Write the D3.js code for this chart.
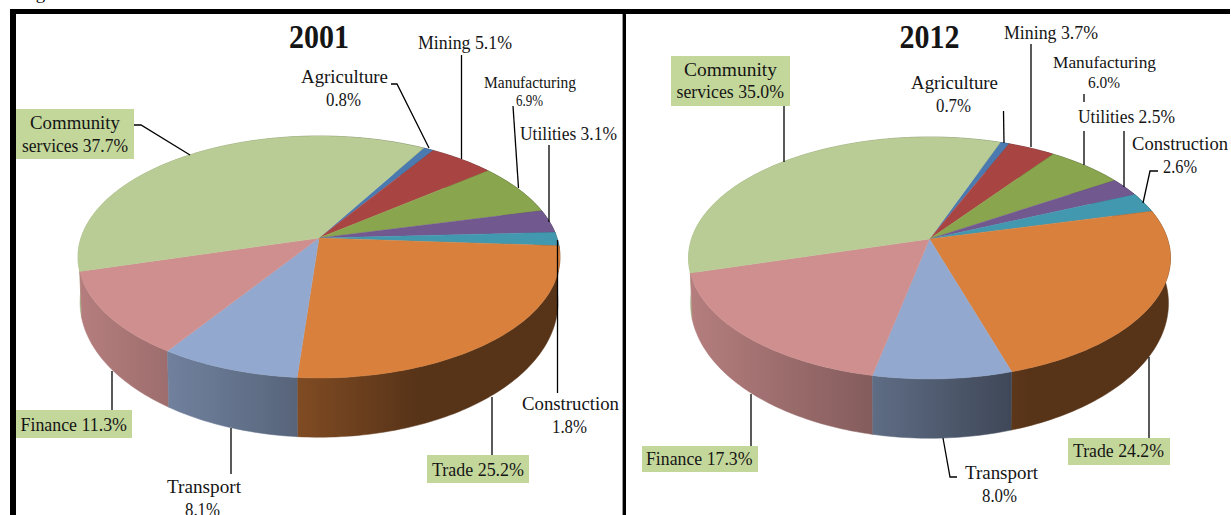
<!DOCTYPE html>
<html lang="en">
<head>
<meta charset="UTF-8">
<title>Employment shares by sector, 2001 and 2012</title>
<script src="https://d3js.org/d3.v7.min.js"></script>
<style>
    html, body { margin: 0; padding: 0; background: #fff; overflow: hidden; }
    text { font-family: "Liberation Serif", serif; fill: #151515; }
</style>
</head>
<body>
<div id="chart"></div>
<script>
// Data, clockwise from the first slice
const sectors = ["Agriculture", "Mining", "Manufacturing", "Utilities", "Construction", "Trade", "Transport", "Finance", "Community services"];
const values2001 = [0.8, 5.1, 6.9, 3.1, 1.8, 25.2, 8.1, 11.3, 37.7];
const values2012 = [0.7, 3.7, 6.0, 2.5, 2.6, 24.2, 8.0, 17.3, 35.0];
const sectorColors = ["#4a7ab0", "#a84543", "#89a54e", "#71588f", "#4198af", "#d9803c", "#93a8ce", "#cf8f8f", "#b9cc95"];
const titles = ["2001", "2012"];
const firstAngles = [30, 20];
const labels2001 = [["Agriculture", "0.8%"], ["Mining 5.1%"], ["Manufacturing", "6.9%"], ["Utilities 3.1%"], ["Construction", "1.8%"], ["Trade 25.2%"], ["Transport", "8.1%"], ["Finance 11.3%"], ["Community", "services 37.7%"]];
const labels2012 = [["Agriculture", "0.7%"], ["Mining 3.7%"], ["Manufacturing", "6.0%"], ["Utilities 2.5%"], ["Construction", "2.6%"], ["Trade 24.2%"], ["Transport", "8.0%"], ["Finance 17.3%"], ["Community", "services 35.0%"]];

// Label placement, same order as sectors: [x0, x1, baseline] per line, optional box, leader pieces
const layout2001 = [
    { lines: [[301, 388, 83], [326, 361, 106]], leaders: [[[391, 84], [397, 84], [429, 148]]] },
    { lines: [[418, 512, 49]], leaders: [[[461.5, 55], [461.5, 159]]] },
    { lines: [[484, 576, 88, 16], [516, 543, 106, 16]], leaders: [[[513, 106], [518.5, 188]]] },
    { lines: [[520, 617, 140]], leaders: [[[549, 145], [549, 222]]] },
    { lines: [[522, 619, 410], [552, 587, 433]], leaders: [[[557.5, 240], [557.5, 393]]] },
    { lines: [[432, 524, 476]], box: [427, 455, 102, 28], leaders: [[[492, 397], [492, 455]]] },
    { lines: [[167, 241, 493], [185, 220, 516]], leaders: [[[231, 428], [231, 474]]] },
    { lines: [[20.5, 127, 431]], box: [16, 410, 116, 28], leaders: [[[112, 371], [112, 410]]] },
    { lines: [[30, 120, 129], [22, 128, 152]], box: [16, 109, 118, 50], leaders: [[[134, 125], [141, 125], [190, 155]]] }
];
const layout2012 = [
    { lines: [[911, 998, 89], [936, 971, 112]], leaders: [[[1003.5, 111], [1004, 143]]] },
    { lines: [[1004, 1098, 39]], leaders: [[[1031, 44], [1031, 147]]] },
    { lines: [[1053, 1156, 68, 17], [1088, 1120, 88, 17]], leaders: [[[1084, 94], [1084, 102]], [[1084, 131], [1084, 165]]] },
    { lines: [[1078, 1175, 123]], leaders: [[[1124, 131], [1124, 187]]] },
    { lines: [[1132, 1228, 150], [1163, 1197, 173]], leaders: [[[1158, 171], [1150, 171], [1143, 203]]] },
    { lines: [[1073, 1164, 457]], box: [1068, 438, 102, 27], leaders: [[[1149, 357], [1149, 438]]] },
    { lines: [[965, 1038, 479], [982, 1017, 502]], leaders: [[[943, 438], [950, 477], [957, 477]]] },
    { lines: [[646, 752.5, 465]], box: [642, 446, 116, 26], leaders: [[[751, 394], [751, 446]]] },
    { lines: [[684, 777, 76], [676.5, 784, 98]], box: [671, 56, 119, 50], leaders: [[[784, 106], [784, 162]]] }
];

const width = 1231, height = 515;
const svg = d3.select("#chart").append("svg").attr("width", width).attr("height", height);
const defs = svg.append("defs");

// Page frame
svg.append("text").attr("x", 20).attr("y", -1).attr("font-size", 19).text("Figure");
svg.append("rect").attr("x", 10).attr("y", 9).attr("width", 1220).attr("height", 5).attr("fill", "#000");
svg.append("rect").attr("x", 10).attr("y", 9).attr("width", 6).attr("height", height).attr("fill", "#000");
svg.append("rect").attr("x", 622).attr("y", 14).attr("width", 1).attr("height", height).attr("fill", "#999");
svg.append("rect").attr("x", 623).attr("y", 9).attr("width", 3).attr("height", height).attr("fill", "#000");

// Pie seen in perspective: unit circle point -> screen
const persp = 0.157;
const topRim = { rx: 238, ry: 118, drop: 0 };
const lowRim = { rx: 236, ry: 131.7, drop: 43 };

function project(a, cx, cy, r) {
    const u = Math.sin(a), v = -Math.cos(a), w = 1 - persp * v;
    return [cx + r.rx * u / w, cy + r.drop + r.ry * v / w];
}

function rim(a0, a1, cx, cy, r) {
    const n = Math.max(2, Math.ceil((a1 - a0) / 0.02));
    return d3.range(n + 1).map(i => project(a0 + (a1 - a0) * i / n, cx, cy, r));
}

// Wall lighting falls from left to right
const shade = d3.scaleLinear().domain([-241, -150, -55, 100, 241]).range([0.88, 0.76, 0.64, 0.4, 0.4]);
const line = d3.line();

function drawPie(values, title, firstAngle, labels, layout, cx, cy, id) {
    const pie = d3.pie().sort(null)
        .startAngle(firstAngle * Math.PI / 180)
        .endAngle((firstAngle + 360) * Math.PI / 180);
    const slices = pie(values).map((d, i) => ({ ...d, color: sectorColors[i], gid: `wall${id}-${i}` }));

    slices.forEach(d => {
        const gr = defs.append("linearGradient").attr("id", d.gid)
            .attr("gradientUnits", "userSpaceOnUse")
            .attr("x1", cx - 241).attr("x2", cx + 241).attr("y1", 0).attr("y2", 0);
        shade.domain().forEach(x => {
            const c = d3.rgb(d.color);
            const k = shade(x);
            gr.append("stop").attr("offset", (x + 241) / 482)
                .attr("stop-color", d3.rgb(c.r * k, c.g * k, c.b * k).formatHex());
        });
    });

    const g = svg.append("g");

    // Walls back to front, then the top faces cover the hidden part
    const walls = slices.slice().sort((a, b) =>
        Math.cos((b.startAngle + b.endAngle) / 2) - Math.cos((a.startAngle + a.endAngle) / 2));
    g.selectAll("path.wall").data(walls).join("path")
        .attr("class", "wall")
        .attr("d", d => line(rim(d.startAngle, d.endAngle, cx, cy, topRim)
            .concat(rim(d.startAngle, d.endAngle, cx, cy, lowRim).reverse())) + "Z")
        .attr("fill", d => `url(#${d.gid})`)
        .attr("stroke", d => `url(#${d.gid})`)
        .attr("stroke-width", 0.5);

    g.selectAll("path.top").data(slices).join("path")
        .attr("class", "top")
        .attr("d", d => line([[cx, cy]].concat(rim(d.startAngle, d.endAngle, cx, cy, topRim))) + "Z")
        .attr("fill", d => d.color)
        .attr("stroke", d => d.color)
        .attr("stroke-width", 0.4);

    // Title
    svg.append("text").attr("x", cx - 30).attr("y", 48)
        .attr("font-size", 33).attr("font-weight", "bold")
        .attr("textLength", 60).attr("lengthAdjust", "spacingAndGlyphs")
        .text(title);

    // Labels, leaders and green boxes
    layout.forEach((p, i) => {
        if (p.box) {
            svg.append("rect").attr("x", p.box[0]).attr("y", p.box[1])
                .attr("width", p.box[2]).attr("height", p.box[3]).attr("fill", "#c4d79b");
        }
        p.leaders.forEach(pts => {
            svg.append("path").attr("d", line(pts)).attr("fill", "none")
                .attr("stroke", "#000").attr("stroke-width", 1.3);
        });
        labels[i].forEach((t, j) => {
            const [x0, x1, y, size] = p.lines[j];
            svg.append("text").attr("x", x0).attr("y", y)
                .attr("font-size", size || 19)
                .attr("textLength", x1 - x0).attr("lengthAdjust", "spacingAndGlyphs")
                .text(t);
        });
    });
}

drawPie(values2001, titles[0], firstAngles[0], labels2001, layout2001, 319, 238, "a");
drawPie(values2012, titles[1], firstAngles[1], labels2012, layout2012, 929.5, 239, "b");
</script>
</body>
</html>
